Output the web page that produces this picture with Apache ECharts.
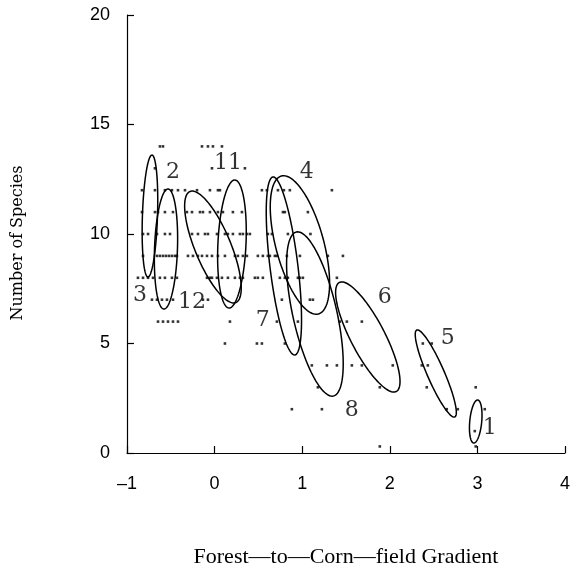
<!DOCTYPE html>
<html>
<head>
<meta charset="utf-8">
<script src="https://cdn.jsdelivr.net/npm/echarts@6/dist/echarts.min.js"></script>
<style>html,body{margin:0;padding:0;background:#fff}#c{width:573px;height:571px}</style>
</head>
<body>
<div id="c"></div>
<script>
// ---- Data: x positions of survey points per species count ----
const species14 = [-0.624, -0.589, -0.144, -0.076, -0.019, 0.084];
const species13 = [-0.681, -0.030, 0.346];
const species12 = [-0.829, -0.681, -0.567, -0.487, -0.418, -0.338, -0.201, -0.053, 0.038, 0.061, 0.540, 0.597, 0.723, 0.791, 0.859, 1.339];
const species11 = [-0.829, -0.681, -0.646, -0.567, -0.475, -0.316, -0.258, -0.167, -0.133, -0.053, 0.038, 0.095, 0.209, 0.312, 0.780, 0.802, 1.065];
const species10 = [-0.817, -0.760, -0.658, -0.567, -0.509, -0.258, -0.190, -0.110, -0.076, 0.027, 0.118, 0.152, 0.209, 0.289, 0.323, 0.369, 0.403, 0.608, 0.654, 0.837, 1.094];
const species9 = [-0.817, -0.658, -0.624, -0.589, -0.555, -0.521, -0.487, -0.453, -0.430, -0.304, -0.247, -0.190, -0.144, -0.087, -0.030, 0.038, 0.118, 0.232, 0.266, 0.323, 0.369, 0.494, 0.551, 0.608, 0.631, 0.688, 0.711, 0.825, 0.974, 1.293, 1.465];
const species8 = [-0.875, -0.817, -0.760, -0.703, -0.624, -0.567, -0.487, -0.430, -0.087, -0.053, -0.030, 0.027, 0.084, 0.152, 0.232, 0.289, 0.323, 0.460, 0.494, 0.551, 0.745, 0.802, 0.837, 0.951, 0.974, 1.008, 1.396];
const species7 = [-0.715, -0.658, -0.601, -0.544, -0.475, -0.133, -0.076, 0.768, 1.088, 1.122];
const species6 = [-0.646, -0.589, -0.532, -0.475, -0.418, 0.175, 0.711, 0.951, 1.430, 1.510, 1.681];
const species5 = [0.118, 0.483, 0.540, 0.802, 2.377, 2.479];
const species4 = [1.110, 1.282, 1.396, 1.567, 1.681, 2.034, 2.365, 2.434];
const species3 = [1.179, 1.886, 2.422, 2.981];
const species2 = [0.882, 1.225, 2.650, 2.776, 3.084];
const species1 = [2.970];
const speciesLow = [1.886, 2.981]; // marks just above the axis
const speciesLowValue = 0.3;

// ---- Ellipses (data units): centre, semi-diameter U, conjugate semi-diameter V ----
const ellipseCx = [-0.738, -0.555, -0.019, 0.198, 0.974, 1.145, 0.791, 1.749, 2.525, 2.981];
const ellipseCy = [10.82, 9.315, 9.406, 9.543, 9.498, 6.347, 8.539, 5.297, 3.630, 1.438];
const ellipseU = [[0.023, 2.785], [0.023, 2.74], [-0.262, 2.534], [0.034, 2.922], [0.211, -3.151], [0.211, -3.744], [0.125, -4.064], [0.325, -2.489], [0.217, -1.986], [0.023, 0.982]];
const ellipseV = [[0.086, -0.011], [0.131, 0], [0.189, 0.315], [0.160, -0.03], [0.265, 0.283], [0.245, 0.221], [0.158, 0.079], [0.172, 0.360], [0.089, 0.155], [0.068, -0.025]];

// ---- Ellipse labels ----
const labelText = ['1', '2', '3', '4', '5', '6', '7', '8', '11', '12'];
const labelX = [3.141, -0.475, -0.852, 1.053, 2.662, 1.943, 0.551, 1.567, 0.152, -0.258];
const labelY = [1.14, 12.83, 7.21, 12.83, 5.25, 7.12, 6.07, 1.96, 13.24, 6.89];

const xTickValues = [-1, 0, 1, 2, 3, 4];
const yTickValues = [0, 5, 10, 15, 20];

// ---- Build series data ----
const rows = [[14, species14], [13, species13], [12, species12], [11, species11], [10, species10], [9, species9], [8, species8], [7, species7], [6, species6], [5, species5], [4, species4], [3, species3], [2, species2], [1, species1], [speciesLowValue, speciesLow]];
const dotData = [];
rows.forEach(([y, xs]) => xs.forEach(x => dotData.push([x, y])));

const ellipseData = ellipseCx.map((cx, i) => [cx, ellipseCy[i], ellipseU[i][0], ellipseU[i][1], ellipseV[i][0], ellipseV[i][1]]);
const labelData = labelText.map((t, i) => ({ value: [labelX[i], labelY[i]], name: t }));

const chart = echarts.init(document.getElementById('c'), null, { renderer: 'canvas' });
const axisCommon = {
  axisLine: { show: true, onZero: false, lineStyle: { color: '#000', width: 1.2 } },
  axisTick: { show: true, inside: true, length: 7, lineStyle: { color: '#000', width: 1.2 } },
  splitLine: { show: false },
  axisLabel: { color: '#000', fontFamily: 'Liberation Sans', fontSize: 18 }
};
chart.setOption({
  animation: false,
  backgroundColor: '#fff',
  grid: { left: 127, right: 8, top: 15, bottom: 118, containLabel: false },
  xAxis: Object.assign({}, axisCommon, {
    type: 'value', min: -1, max: 4, interval: 1,
    axisLabel: Object.assign({}, axisCommon.axisLabel, { margin: 22, formatter: v => xTickValues.includes(v) ? (v < 0 ? '\u2013' + Math.abs(v) : String(v)) : '' })
  }),
  yAxis: Object.assign({}, axisCommon, {
    type: 'value', min: 0, max: 20, interval: 5,
    axisLabel: Object.assign({}, axisCommon.axisLabel, { margin: 17, formatter: v => yTickValues.includes(v) ? String(v) : '' })
  }),
  series: [
    {
      type: 'custom',
      data: ellipseData,
      encode: { x: 0, y: 1 },
      clip: false,
      renderItem: function (params, api) {
        const cx = api.value(0), cy = api.value(1), ux = api.value(2), uy = api.value(3), vx = api.value(4), vy = api.value(5);
        const pts = [];
        const n = 120;
        for (let k = 0; k <= n; k++) {
          const t = 2 * Math.PI * k / n;
          pts.push(api.coord([cx + ux * Math.cos(t) + vx * Math.sin(t), cy + uy * Math.cos(t) + vy * Math.sin(t)]));
        }
        return { type: 'polyline', shape: { points: pts }, style: { stroke: '#000', lineWidth: 1.5, fill: null } };
      },
      z: 3
    },
    {
      type: 'scatter',
      data: dotData,
      symbol: 'rect',
      symbolSize: 2.6,
      itemStyle: { color: '#000' },
      z: 4
    },
    {
      type: 'scatter',
      data: labelData,
      symbolSize: 0,
      label: { show: true, position: 'inside', formatter: p => p.name, color: '#000', fontFamily: 'DejaVu Serif', fontSize: 22 },
      z: 5
    }
  ],
  graphic: [
    { type: 'text', x: 346, y: 557, style: { text: 'Forest\u2014to\u2014Corn\u2014field Gradient', font: '22px "Liberation Serif"', fill: '#000', align: 'center', verticalAlign: 'middle' }, silent: true },
    { type: 'text', x: 18, y: 243, rotation: Math.PI / 2, style: { text: 'Number of Species', font: '16px "DejaVu Serif"', fill: '#000', align: 'center', verticalAlign: 'middle' }, silent: true }
  ]
});
</script>
</body>
</html>
